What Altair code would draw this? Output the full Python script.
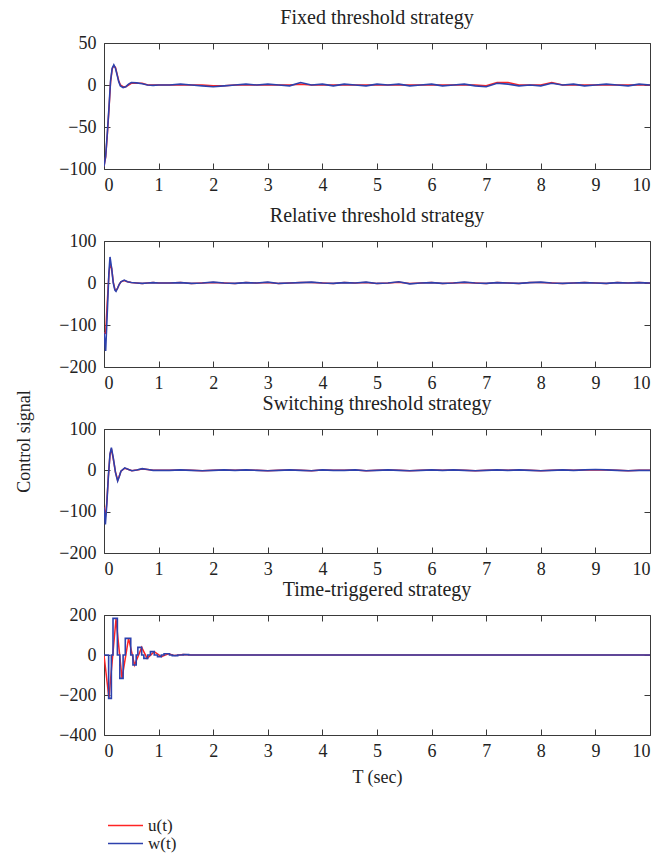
import altair as alt
import pandas as pd

FONT = "Liberation Serif"
RED = "#ff2424"
BLUE = "#2d41ad"
AXC = "#3a3a3a"

# ---------------- data ----------------
T_LATE = [1.2, 1.4, 1.6, 1.8, 2.0, 2.2, 2.4, 2.6, 2.8, 3.0,
          3.2, 3.4, 3.6, 3.8, 4.0, 4.2, 4.4, 4.6, 4.8, 5.0,
          5.2, 5.4, 5.6, 5.8, 6.0, 6.2, 6.4, 6.6, 6.8, 7.0,
          7.2, 7.4, 7.6, 7.8, 8.0, 8.2, 8.4, 8.6, 8.8, 9.0,
          9.2, 9.4, 9.6, 9.8, 10.0]

# Fixed threshold strategy
T1_EARLY = [0, 0.03, 0.06, 0.09, 0.12, 0.15, 0.18, 0.21, 0.24, 0.27,
            0.3, 0.35, 0.4, 0.45, 0.5, 0.6, 0.7, 0.8, 0.9, 1.0]
W1_EARLY = [-97, -85, -58, -28, 5, 20, 24, 20, 12, 4,
            -1, -3, -2, 1, 3, 2.5, 1.5, 0, -0.5, 0]
U1_EARLY = [-97, -86, -60, -30, 3, 19, 23, 21, 13, 5,
            0, -2, -2, 0, 2, 2, 2, 0, 0, 0]
W1_LATE = [0, 1, 0, -1, -2, -1, 0, 1, 0, 1,
           0, -1, 3, 0, 1, -1, 1, 0, -1, 1,
           0, 1, -1, 0, 1, -1, 0, 1, -1, -2,
           2, 1, -1, 0, -1, 2, 0, 1, -1, 0,
           1, 0, -1, 1, 0]
U1_LATE = [0, 0, 0, 0, -1, -1, 0, 0, 0, 0,
           0, 0, 1, 0, 0, 0, 0, 0, 0, 0,
           0, 0, 0, 0, 0, 0, 0, 0, 0, -1,
           3, 3, 0, 0, 0, 3, 0, 0, 0, 0,
           0, 0, 0, 0, 0]

# Relative threshold strategy
T2_EARLY = [0, 0.03, 0.06, 0.09, 0.11, 0.14, 0.17, 0.2, 0.22, 0.25,
            0.28, 0.31, 0.37, 0.43, 0.5, 0.6, 0.7, 0.8, 0.9, 1.0]
W2_EARLY = [-118, -162, -70, 25, 62, 35, 0, -17, -20, -12,
            -3, 3, 7, 3, 1, 0, -1, 0, 1, 0]
U2_EARLY = [-118, -120, -45, 20, 44, 35, 2, -15, -18, -12,
            -3, 3, 6, 3, 1, 0, -1, 0, 1, 0]
W2_LATE = [0, 1, -1, 0, 2, 0, -1, 1, 0, 2,
           -1, 0, 1, 2, 0, -1, 1, 0, 2, -1,
           0, 3, -2, 0, 1, -1, 0, 2, 0, -1,
           1, 0, -1, 1, 2, 0, -1, 0, 1, 0,
           -1, 1, 0, 1, 0]
U2_LATE = [0, 1, -1, 0, 1, 0, -1, 1, 0, 1,
           -1, 0, 1, 1, 0, -1, 1, 0, 1, -1,
           0, 2, -1, 0, 1, -1, 0, 1, 0, -1,
           1, 0, -1, 1, 1, 0, -1, 0, 1, 0,
           -1, 1, 0, 1, 0]

# Switching threshold strategy
T3_EARLY = [0, 0.025, 0.05, 0.08, 0.11, 0.135, 0.17, 0.21, 0.25, 0.28,
            0.31, 0.38, 0.45, 0.51, 0.6, 0.7, 0.8, 0.9, 1.0]
W3_EARLY = [-90, -131, -85, -15, 40, 55, 30, -5, -26, -15,
            -2, 6, 2, -1, 1, 4, 2, 0, 0]
U3_EARLY = [-90, -112, -80, -15, 38, 52, 28, -4, -24, -14,
            -2, 5, 2, -1, 1, 3, 2, 0, 0]
W3_LATE = [0, 1, 0, -1, 0, 1, 0, 1, 0, -1,
           0, 1, 0, -1, 1, 0, 0, 1, -1, 0,
           1, 0, -1, 0, 1, 0, 1, 0, -1, 0,
           1, 0, 1, 0, -1, 0, 1, 0, 1, 2,
           1, 0, -1, 0, 0]
U3_LATE = [0, 1, 0, -1, 0, 1, 0, 1, 0, -1,
           0, 1, 0, -1, 1, 0, 0, 1, -1, 0,
           1, 0, -1, 0, 1, 0, 1, 0, -1, 0,
           1, 0, 1, 0, -1, 0, 1, 0, 1, 1,
           1, 0, -1, 0, 0]

# Time-triggered strategy (w is held between samples)
T4_U = [0, 0.09, 0.22, 0.33, 0.45, 0.56, 0.69, 0.79, 0.92, 1.05,
        1.18, 1.3, 1.45, 1.6, 1.8, 10.0]
V4_U = [0, -215, 180, -117, 83, -50, 38, -17, 17, -8,
        6, -3, 2, 0, 0, 0]
T4_W = [0, 0.085, 0.135, 0.165, 0.245, 0.29, 0.35, 0.39, 0.49, 0.53,
        0.59, 0.62, 0.69, 0.73, 0.8, 0.85, 0.92, 0.98, 1.05, 1.1,
        1.2, 1.25, 1.35, 1.45, 1.55, 10.0]
V4_W = [0, -217, 0, 183, 0, -117, 0, 83, 0, -50,
        0, 38, 0, -17, 0, 17, 0, -8, 0, 6,
        0, -3, 0, 2, 0, 0]

TITLES = ["Fixed threshold strategy", "Relative threshold strategy",
          "Switching threshold strategy", "Time-triggered strategy"]
X_TICKS = [0, 1, 2, 3, 4, 5, 6, 7, 8, 9, 10]
Y_DOMAINS = [[-100, 50], [-200, 100], [-200, 100], [-400, 200]]
Y_TICKS = [[-100, -50, 0, 50], [-200, -100, 0, 100], [-200, -100, 0, 100],
           [-400, -200, 0, 200]]
SERIES = ["u(t)", "w(t)"]

W = 546
HEIGHTS = [126, 126, 124, 120]
TK = 6
FS = 18


def panel(i, tu, vu, tw, vw, w_interp="linear"):
    du = pd.DataFrame({"t": tu, "v": vu, "s": SERIES[0]})
    dw = pd.DataFrame({"t": tw, "v": vw, "s": SERIES[1]})
    xs = alt.Scale(domain=[0, 10], nice=False, zero=False)
    ys = alt.Scale(domain=Y_DOMAINS[i], nice=False, zero=False)
    color = alt.Color(
        "s:N",
        scale=alt.Scale(domain=SERIES, range=[RED, BLUE]),
        legend=alt.Legend(
            orient="none", legendX=3, legendY=774, title=None,
            symbolType="stroke", symbolSize=1225, symbolStrokeWidth=1.5,
            labelFont=FONT, labelFontSize=17, labelColor="#222",
            rowPadding=0, labelOffset=4, direction="vertical", clipHeight=17,
        ),
    )
    xkw = dict(values=X_TICKS, orient="bottom", offset=-TK, tickSize=TK,
               domain=False, labelPadding=TK + 1, grid=False)
    if i == 3:
        xkw["title"] = "T (sec)"
        xkw["titlePadding"] = 8
    else:
        xkw["title"] = ""
    ykw = dict(values=Y_TICKS[i], orient="left", offset=-TK, tickSize=TK,
               domain=False, labelPadding=TK + 2, grid=False)
    if i == 1:
        ykw["title"] = "Control signal"
        ykw["titleX"] = -85.5
        ykw["titleY"] = 200
        ykw["titleAngle"] = 270
        ykw["titleAlign"] = "center"
        ykw["titleBaseline"] = "middle"
    else:
        ykw["title"] = ""
    lu = alt.Chart(du).mark_line(strokeWidth=1.5, interpolate="linear", clip=True).encode(
        x=alt.X("t:Q", scale=xs, axis=alt.Axis(**xkw)),
        y=alt.Y("v:Q", scale=ys, axis=alt.Axis(**ykw)),
        color=color,
    )
    lw = alt.Chart(dw).mark_line(strokeWidth=1.6, interpolate=w_interp, clip=True).encode(
        x=alt.X("t:Q", scale=xs, axis=alt.Axis(values=X_TICKS, orient="top", offset=-TK,
                                               tickSize=TK, domain=False, labels=False,
                                               title="", grid=False)),
        y=alt.Y("v:Q", scale=ys, axis=alt.Axis(values=Y_TICKS[i], orient="right", offset=-TK,
                                               tickSize=TK, domain=False, labels=False,
                                               title="", grid=False)),
        color=color,
    )
    return alt.layer(lu, lw).resolve_axis(x="independent", y="independent").properties(
        width=W, height=HEIGHTS[i], title=TITLES[i]
    )


p1 = panel(0, T1_EARLY + T_LATE, U1_EARLY + U1_LATE, T1_EARLY + T_LATE, W1_EARLY + W1_LATE)
p2 = panel(1, T2_EARLY + T_LATE, U2_EARLY + U2_LATE, T2_EARLY + T_LATE, W2_EARLY + W2_LATE)
p3 = panel(2, T3_EARLY + T_LATE, U3_EARLY + U3_LATE, T3_EARLY + T_LATE, W3_EARLY + W3_LATE)
p4 = panel(3, T4_U, V4_U, T4_W, V4_W, w_interp="step-after")

inner = alt.vconcat(p2, p3, p4, spacing=62, bounds="flush")
chart = alt.vconcat(p1, inner, spacing=72, bounds="flush").properties(
    padding={"left": 15, "top": 7, "right": 10, "bottom": 5},
    background="white",
).configure_view(
    stroke=AXC, strokeWidth=1
).configure_axis(
    labelFont=FONT, labelFontSize=FS, labelColor="#222",
    titleFont=FONT, titleFontSize=FS, titleFontWeight="normal", titleColor="#222",
    tickColor=AXC, tickWidth=1,
).configure_title(
    font=FONT, fontSize=20, fontWeight="normal", color="#222", offset=6
)

chart.save("out.html", embed_options={"renderer": "svg", "actions": False})
